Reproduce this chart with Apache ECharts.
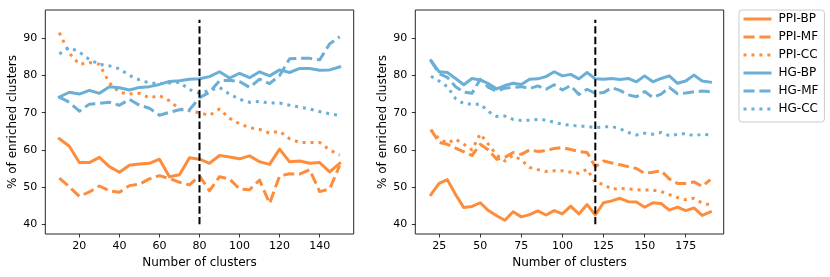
<!DOCTYPE html>
<html>
<head>
<meta charset="utf-8">
<script src="https://cdn.jsdelivr.net/npm/echarts@6/dist/echarts.min.js"></script>
<style>
html,body{margin:0;padding:0;background:#fff;}
#chart{width:830px;height:277px;}
</style>
</head>
<body>
<div id="chart"></div>
<script>
// ---------- data ----------
const seriesNames = ['PPI-BP','PPI-MF','PPI-CC','HG-BP','HG-MF','HG-CC'];

const leftX = [10,15,20,25,30,35,40,45,50,55,60,65,70,75,80,85,90,95,100,105,110,115,120,125,130,135,140,145,150];
const leftPPI_BP = [63,61,56.6,56.6,58,55.5,54,55.9,56.2,56.4,57.5,52.8,53.3,57.9,57.5,56.4,58.5,58.1,57.6,58.4,56.8,56.1,60.2,56.8,57,56.4,56.6,54.1,56.4];
const leftPPI_MF = [52.4,50.1,47.5,48.7,50.3,49,48.6,50.4,50.8,52.2,53.1,52.3,51.3,50.6,53,49,52.8,52.2,49.5,49.3,51.9,45.6,53,53.6,53.5,54.7,48.8,49.5,55.8];
const leftPPI_CC = [91.5,86,83,83.5,83,78,75.5,75,75.2,74,74.6,73.2,71,70.5,70,69.3,71,68.5,67,66,65.5,64.5,65,63,62,62,62,60,58.6];
const leftHG_BP = [74.2,75.5,75,76,75.2,77,76.7,76.1,76.8,77,77.6,78.4,78.6,79,79.1,79.7,81,79.3,80.6,79.4,81,79.9,81.5,80.8,81.9,81.9,81.4,81.5,82.3];
const leftHG_MF = [74.2,72.8,70.4,72.3,72.5,72.8,72,73.6,72,71.2,69.3,70.1,70.8,70.8,74,75.5,78.6,78.7,78.4,76.8,79,77.8,80,84.5,84.6,84.6,84.2,88.5,90.4];
const leftHG_CC = [85.8,87.5,86.3,84.3,83,82.6,81.8,80,78.8,78,77.8,78,78.2,76.2,75.2,76,76.8,75,73.6,72.8,73,72.6,72.6,72,71.5,71,70.3,69.7,69.3];

const rightX = [20,25,30,35,40,45,50,55,60,65,70,75,80,85,90,95,100,105,110,115,120,125,130,135,140,145,150,155,160,165,170,175,180,185,190];
const rightPPI_BP = [48,51,52,48,44.5,44.8,45.8,43.7,42.3,41.1,43.4,42,42.6,43.6,42.5,43.7,42.8,44.9,42.8,45.3,42.5,45.8,46.3,47,46.1,46,44.6,45.8,45.6,43.8,44.6,43.7,44.4,42.4,43.3];
const rightPPI_MF = [65.5,62,61.5,60.5,59.5,58.5,61.5,60,57.5,58,59.3,58.8,60,59.6,59.8,60.4,60.6,60.1,59.6,59.3,55.5,57,56.5,56,55.5,55,53.7,54,54.4,52.2,51,51,51.4,50.2,52];
const rightPPI_CC = [65.3,63,61.8,62.9,61.5,60,64.3,61.5,58.6,57,58.5,57.3,55.3,54.7,54.2,54.4,54.4,54,53.7,54.8,51.2,50.8,49.4,49.7,49.5,49.3,49.2,49.2,48.8,48,47.2,46.6,47,45.7,45.2];
const rightHG_BP = [84,81,80.8,79.2,77.5,79.2,78.8,77.8,76.4,77.3,77.9,77.6,79,79.1,79.7,81,79.9,80.3,79.1,80.8,79.1,79,79.2,78.9,79.2,78.3,79.9,78.3,79.2,79.9,77.9,78.5,80.1,78.5,78.2];
const rightHG_MF = [84,80.5,79.5,77,75.5,75.2,79,76.8,75.8,76.6,76.8,77,76.5,77.2,76.3,77.5,76.1,77.3,74.9,76.3,75.2,75.4,76.7,76,74.8,74.3,75.7,74.1,75,76.8,75.1,75.3,75.6,75.8,75.6];
const rightHG_CC = [79.8,78.5,77,73.8,72.4,72.3,72.3,70.3,69,69.1,68.2,67.9,68,68.2,68,67.4,66.9,66.6,66.4,66.3,66,66.2,66.3,65.7,64.7,64,64.5,64.2,64.7,63.8,64.2,64.4,63.8,64.2,64];

const cutLeft = 80, cutRight = 120;
const cutY = [40, 95];

const yTicks = [40,50,60,70,80,90];
const leftXTicks = [20,40,60,80,100,120,140];
const rightXTicks = [25,50,75,100,125,150,175];

// ---------- styles ----------
const ORANGE = '#fd8d3c', BLUE = '#6baed6';
const LW = 3;
const styles = [
  {color: ORANGE, type: 'solid'},
  {color: ORANGE, type: [3.7*LW, 1.6*LW]},
  {color: ORANGE, type: [1*LW, 1.65*LW]},
  {color: BLUE, type: 'solid'},
  {color: BLUE, type: [3.7*LW, 1.6*LW]},
  {color: BLUE, type: [1*LW, 1.65*LW]}
];
const FONT = 'DejaVu Sans';
const leftVals = [leftPPI_BP, leftPPI_MF, leftPPI_CC, leftHG_BP, leftHG_MF, leftHG_CC];
const rightVals = [rightPPI_BP, rightPPI_MF, rightPPI_CC, rightHG_BP, rightHG_MF, rightHG_CC];

function zip(xs, ys){ return xs.map((x,i)=>[x, ys[i]]); }

const series = [];
function addPanel(xs, vals, idx, cut){
  vals.forEach((v,i)=>{
    series.push({
      name: seriesNames[i], type: 'line', xAxisIndex: idx, yAxisIndex: idx,
      data: zip(xs, v), symbol: 'none', silent: true, animation: false,
      lineStyle: {color: styles[i].color, width: LW, type: styles[i].type, cap: i%3===0 ? 'square' : 'butt', join: 'round'},
      itemStyle: {color: styles[i].color}
    });
  });
  series.push({
    name: 'cut', type: 'line', xAxisIndex: idx, yAxisIndex: idx,
    data: [[cut, cutY[0]], [cut, cutY[1]]], symbol: 'none', silent: true, animation: false,
    lineStyle: {color: '#000', width: 2, type: [7.4, 3.2]}, z: 5
  });
}
addPanel(leftX, leftVals, 0, cutLeft);
addPanel(rightX, rightVals, 1, cutRight);

function xAxis(idx, min, max, ticks){
  return {
    type: 'value', gridIndex: idx, min: min, max: max,
    name: 'Number of clusters', nameLocation: 'middle', nameGap: 21.5,
    nameTextStyle: {fontFamily: FONT, fontSize: 12, color: '#000'},
    axisLine: {show: false}, splitLine: {show: false},
    axisTick: {show: true, inside: false, length: 3.5, customValues: ticks, lineStyle: {color: '#000', width: 0.8}},
    axisLabel: {customValues: ticks, margin: 7, fontFamily: FONT, fontSize: 11, color: '#000'}
  };
}
function yAxis(idx){
  return {
    type: 'value', gridIndex: idx, min: 37.4, max: 97.6,
    name: '% of enriched clusters', nameLocation: 'middle', nameGap: 26, nameRotate: 90,
    nameTextStyle: {fontFamily: FONT, fontSize: 12, color: '#000'},
    axisLine: {show: false}, splitLine: {show: false},
    axisTick: {show: true, inside: false, length: 3.5, customValues: yTicks, lineStyle: {color: '#000', width: 0.8}},
    axisLabel: {customValues: yTicks, margin: 8, fontFamily: FONT, fontSize: 11, color: '#000'}
  };
}

const chart = echarts.init(document.getElementById('chart'), null, {renderer: 'canvas'});
chart.setOption({
  animation: false,
  backgroundColor: '#fff',
  grid: [
    {left: 45.3, top: 10, width: 308.4, height: 224, show: true, borderColor: '#262626', borderWidth: 1, backgroundColor: 'transparent'},
    {left: 415.3, top: 10, width: 308.4, height: 224, show: true, borderColor: '#262626', borderWidth: 1, backgroundColor: 'transparent'}
  ],
  xAxis: [xAxis(0, 3, 157, leftXTicks), xAxis(1, 10.5, 198.1, rightXTicks)],
  yAxis: [yAxis(0), yAxis(1)],
  legend: {
    data: seriesNames, orient: 'vertical', left: 739, top: 10,
    itemWidth: 28, itemHeight: 10, itemGap: 6,
    padding: [3, 6, 7, 3],
    itemStyle: {opacity: 0},
    lineStyle: {width: 3, cap: 'butt'},
    borderColor: '#cccccc', borderWidth: 1, borderRadius: 3, backgroundColor: '#fff',
    textStyle: {fontFamily: FONT, fontSize: 12, lineHeight: 12, color: '#000', padding: [0,0,0,2]},
    selectedMode: false
  },
  series: series
});
</script>
</body>
</html>
